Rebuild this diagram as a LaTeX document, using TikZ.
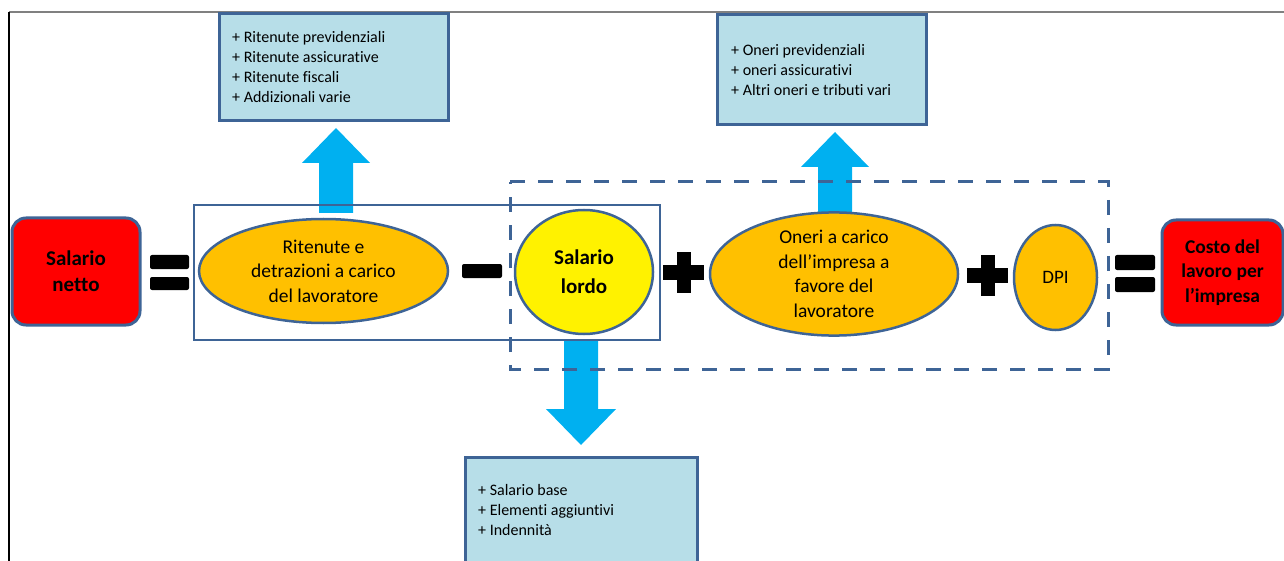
\documentclass[tikz,border=0pt]{standalone}
\usepackage{fontspec}
\setmainfont{Carlito}[Ligatures=NoCommon]
\usetikzlibrary{shapes.geometric}
\definecolor{bord}{HTML}{3E6496}
\definecolor{lblue}{HTML}{B7DEE8}
\definecolor{orng}{HTML}{FFC000}
\definecolor{cyanarr}{HTML}{00B0F0}
\definecolor{framegray}{HTML}{808080}
\tikzset{
  ell/.style={ellipse, draw=bord, line width=2.5pt, fill=orng, inner sep=0pt, align=center, font=\fontsize{19.5}{24.5}\selectfont},
  redbox/.style={rectangle, rounded corners=14pt, draw=bord, line width=3pt, fill=red, inner sep=0pt, align=center},
  infobox/.style={rectangle, draw=bord, line width=3pt, fill=lblue},
  infotext/.style={align=left, anchor=west, inner sep=0pt, font=\fontsize{16}{20}\selectfont},
  signbar/.style={fill=black, rounded corners=2pt},
  blockarrow/.style={fill=cyanarr},
  groupbox/.style={draw=bord, line width=2.5pt},
  dgroupbox/.style={draw=bord, line width=3pt, dash pattern=on 15pt off 13pt},
}
\begin{document}
\begin{tikzpicture}[x=1pt,y=-1pt]
\useasboundingbox (0,0) rectangle (1284,561);
% frame
\draw[framegray, line width=1.5pt] (9,12) -- (1284,12);
\draw[black, line width=1.5pt] (9,12) -- (9,561);

% info boxes
\draw[infobox] (219,14) rectangle (448,121);
\node[infotext] (tl) at (232,67) {+ Ritenute previdenziali\\+ Ritenute assicurative\\+ Ritenute fiscali\\+ Addizionali varie};
\draw[infobox] (717,15) rectangle (926,125);
\node[infotext] (tr) at (731,70) {+ Oneri previdenziali\\+ oneri assicurativi\\+ Altri oneri e tributi vari};
\draw[infobox] (465,457) rectangle (697,575);
\node[infotext] (bt) at (478,510) {+ Salario base\\+ Elementi aggiuntivi\\+ Indennità};

% block arrows
\fill[blockarrow] (319,213) -- (319,163) -- (302,163) -- (336,128) -- (370,163) -- (353,163) -- (353,213) -- cycle;
\fill[blockarrow] (818,215) -- (818,167) -- (801,167) -- (835,132) -- (869,167) -- (852,167) -- (852,215) -- cycle;
\fill[blockarrow] (564,341) -- (564,409) -- (546,409) -- (581,445) -- (616,409) -- (598,409) -- (598,341) -- cycle;

% group boxes
\draw[groupbox] (194,205) rectangle (660,340);
\draw[dgroupbox] (510,182) -- (1108,182) -- (1108,369) -- (510,369) -- cycle;

% main nodes
\node[redbox, font=\bfseries\fontsize{21}{26}\selectfont, minimum width=128pt, minimum height=107pt] (netto) at (76,271.5) {Salario\\netto};
\node[ell, minimum width=249pt, minimum height=104pt] (rit) at (323.5,271) {Ritenute e\\detrazioni a carico\\del lavoratore};
\node[ellipse, draw=bord, line width=2.5pt, fill=yellow, inner sep=0pt, align=center, font=\bfseries\fontsize{21}{29}\selectfont, minimum width=138pt, minimum height=124pt] (lordo) at (584,272) {Salario\\lordo};
\node[ell, minimum width=248pt, minimum height=102pt] (oneri) at (834,274) {Oneri a carico\\dell’impresa a\\favore del\\lavoratore};
\node[ell, font=\fontsize{19}{24}\selectfont, minimum width=83pt, minimum height=105pt] (dpi) at (1055.5,277.5) {DPI};
\node[redbox, font=\bfseries\fontsize{19.5}{24.5}\selectfont, minimum width=121pt, minimum height=105pt] (costo) at (1222.5,272.5) {Costo del\\lavoro per\\l’impresa};

% signs
\fill[signbar] (150,255) rectangle (189,269);
\fill[signbar] (150,277) rectangle (189,290);
\fill[signbar] (462,264) rectangle (502,278);
\fill[black] (677,252) rectangle (691,293);
\fill[black] (663,265) rectangle (704,280);
\fill[black] (980.5,255) rectangle (994.5,296);
\fill[black] (967,268) rectangle (1008,283);
\fill[signbar] (1115,255) rectangle (1155,270);
\fill[signbar] (1115,277) rectangle (1155,292);
\end{tikzpicture}
\end{document}
